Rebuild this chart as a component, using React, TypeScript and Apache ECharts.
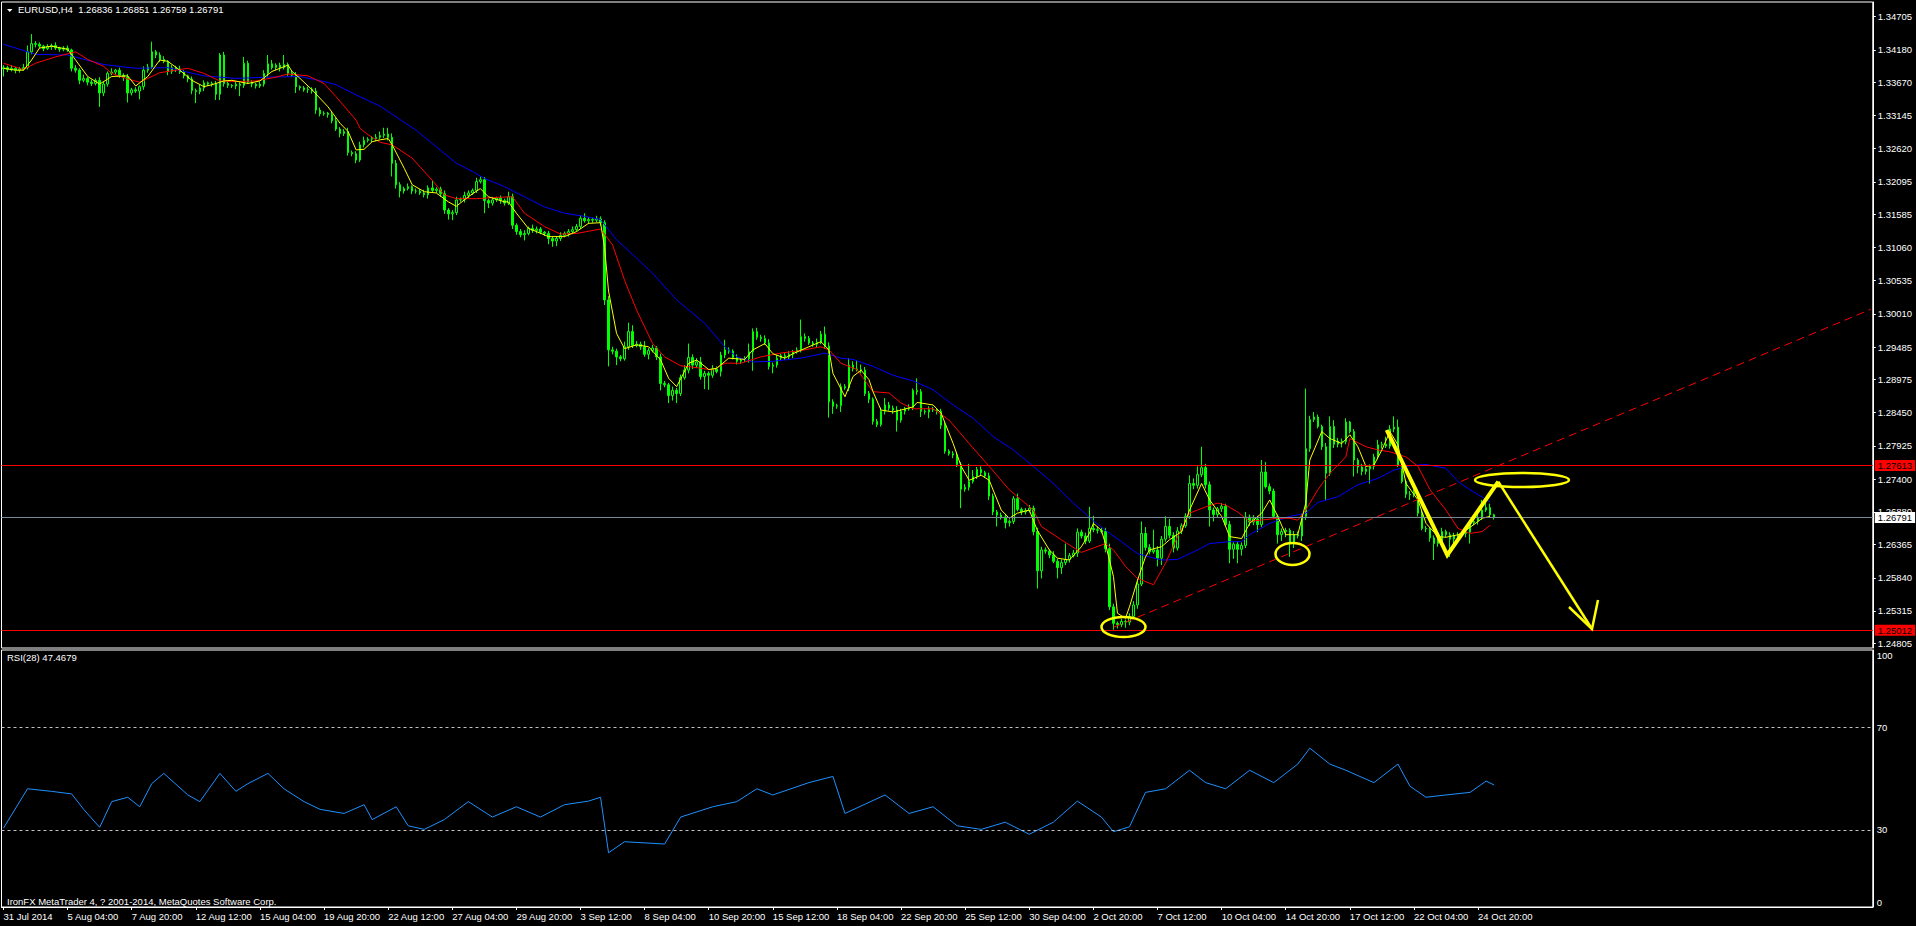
import React, { useEffect, useRef } from 'react';
import * as echarts from 'echarts';

// ---------------- DATA ----------------
const PIP = 10000; // prices below are in 1/10000 units
const firstOpen = 13388;
const closes = [
  13390,13387,13389,13386,13388,13390,13415,13428,13427,13424,13420,13423,13425,13421,13419,13421,
  13418,13389,13386,13370,13373,13367,13365,13370,13350,13364,13381,13383,13386,13378,13375,13350,
  13355,13353,13360,13386,13391,13415,13410,13403,13400,13384,13390,13388,13383,13377,13372,13354,
  13352,13358,13366,13364,13365,13348,13410,13365,13362,13361,13364,13362,13397,13367,13364,13361,
  13364,13381,13396,13390,13394,13390,13395,13381,13378,13360,13358,13355,13356,13353,13323,13317,
  13318,13316,13306,13293,13286,13289,13256,13254,13244,13268,13275,13277,13278,13280,13283,13285,
  13280,13239,13205,13195,13199,13202,13195,13195,13192,13189,13200,13196,13198,13191,13165,13159,
  13161,13181,13182,13188,13192,13196,13210,13213,13180,13176,13181,13184,13180,13176,13186,13141,
  13131,13126,13128,13136,13133,13135,13130,13128,13120,13116,13120,13125,13128,13131,13134,13139,
  13152,13148,13150,13149,13151,13145,13023,12944,12942,12933,12930,12949,12973,12951,12953,12949,
  12937,12943,12947,12933,12891,12889,12872,12880,12875,12900,12912,12932,12920,12925,12902,12907,
  12904,12914,12910,12936,12944,12942,12932,12926,12928,12930,12941,12973,12964,12962,12955,12918,
  12920,12931,12935,12933,12937,12941,12944,12965,12962,12955,12953,12956,12969,12950,12862,12855,
  12856,12886,12884,12920,12914,12913,12912,12875,12866,12831,12826,12847,12857,12852,12849,12833,
  12847,12851,12853,12880,12878,12847,12846,12850,12849,12847,12825,12784,12780,12778,12763,12724,
  12727,12736,12744,12755,12750,12745,12713,12688,12683,12680,12671,12673,12709,12692,12688,12690,
  12694,12657,12595,12628,12626,12620,12610,12600,12608,12613,12619,12623,12656,12650,12642,12662,
  12660,12659,12657,12630,12538,12512,12510,12515,12514,12523,12541,12574,12654,12632,12625,12628,
  12615,12645,12665,12651,12631,12658,12666,12681,12733,12730,12747,12758,12731,12691,12684,12693,
  12697,12668,12629,12637,12629,12635,12680,12672,12677,12668,12751,12728,12721,12681,12652,12657,
  12659,12639,12652,12650,12681,12788,12834,12838,12823,12791,12749,12823,12795,12800,12799,12830,
  12815,12770,12759,12752,12756,12760,12775,12794,12795,12792,12819,12822,12762,12736,12716,12715,
  12719,12686,12662,12661,12647,12638,12642,12657,12652,12645,12650,12652,12654,12656,12671,12673,
  12679,12691,12695,12683.6,12679.1,
];
const upperWicks = [
  4,3,5,2,3,6,10,15,4,3,2,4,3,5,2,3, 4,2,5,3,6,2,4,3,5,4,3,6,2,4,3,5,
  3,4,2,6,5,16,3,4,5,2,4,3,5,3,2,4, 3,5,4,2,3,4,3,5,3,2,4,3,10,4,3,2,
  4,5,14,6,3,4,15,3,4,5,2,3,4,3,5,4, 3,2,4,5,3,4,6,3,4,5,6,3,4,5,6,10,
  10,6,5,4,3,5,2,4,3,5,4,12,3,4,5,3, 4,5,3,6,4,3,6,5,4,3,5,2,4,3,8,5,
  3,4,5,3,6,4,3,2,4,3,4,5,3,4,5,4, 5,8,4,3,5,4,4,6,5,4,3,8,14,10,5,4,
  9,4,5,3,5,4,3,6,4,5,8,22,5,6,8,4, 3,6,4,5,16,4,3,5,3,4,13,5,6,4,5,6,
  4,5,3,4,5,3,4,27,5,4,3,6,5,12,6,4, 3,5,4,11,6,14,8,5,4,3,4,6,11,5,4,6,
  4,3,5,3,19,4,3,5,4,3,4,5,3,4,5,4, 5,28,10,4,5,3,5,4,3,4,5,3,4,8,3,4,
  5,4,6,5,4,3,6,4,5,25,4,5,6,4,5,34, 20,5,4,6,8,5,3,4,3,5,6,8,19,10,5,32,
  6,5,16,12,5,6,4,5,13,8,13,33,6,5,4,3, 5,4,6,3,4,5,8,4,6,5,19,16,5,4,3,5,
  4,3,6,5,4,95,6,8,4,3,6,16,10,5,4,6, 2,4,3,5,4,3,5,8,4,12,6,17,12,4,3,5,
  4,3,5,4,3,4,5,6,3,4,5,4,3,5,4,6, 8,16,10,6,1.5,
];
const lowerWicks = [
  12,4,3,5,4,3,3,4,5,3,4,2,5,3,4,3, 3,5,4,6,3,5,4,3,22,5,4,3,5,4,6,15,
  4,3,13,5,4,3,5,4,3,6,4,5,3,4,5,6, 18,4,5,3,4,9,9,5,4,3,5,17,4,3,5,4,
  3,4,5,3,4,6,3,4,3,10,4,3,5,4,6,4, 3,5,4,3,6,4,5,4,5,3,4,3,5,4,3,4,
  5,21,6,10,4,3,5,4,3,4,6,3,4,5,6,9, 10,4,3,5,4,3,4,3,20,8,4,3,5,4,3,6,
  5,4,9,3,4,5,3,4,9,9,8,4,3,5,4,3, 4,3,5,4,3,5,8,26,5,13,4,3,5,4,3,5,
  4,8,3,5,11,4,12,8,15,4,3,5,6,4,5,20, 23,4,3,8,5,4,3,5,4,3,6,30,4,5,3,5,
  11,4,3,5,4,6,3,4,5,3,4,5,3,4,25,12, 4,10,3,5,4,3,5,4,6,5,4,3,5,4,6,18,
  4,5,3,4,5,9,4,10,3,5,6,4,3,5,4,30, 4,5,3,4,5,3,6,5,18,4,9,6,4,3,5,4,
  3,6,28,12,4,5,3,17,10,4,5,3,6,4,5,3, 4,5,3,6,5,10,6,4,9,5,4,6,3,5,4,3,
  13,11,4,5,7,4,5,3,4,6,5,4,6,26,11,4, 5,3,22,15,22,10,4,6,5,12,4,3,5,4,14,10,
  9,22,8,4,8,6,5,4,3,5,42,4,6,5,9,4, 3,26,10,6,5,23,5,4,6,3,4,5,3,3,6,8,
  4,5,3,5,6,26,5,6,4,28,14,5,4,6,18,4, 5,4,3,5,3.2,
];

// moving averages, read as [bar index, price in 1/10000]
const maYellow = [
  [0,13389],[3,13386],[5,13386],[7,13402],[9,13421],[12,13424],[16,13419],[18,13402],[21,13376],[24,13364],
  [27,13376],[31,13377],[33,13361],[36,13376],[39,13402],[41,13400],[44,13386],[47,13370],[50,13360],[52,13363],
  [55,13369],[57,13370],[61,13365],[64,13369],[67,13384],[71,13394],[72,13384],[74,13373],[77,13355],[81,13328],
  [84,13302],[86,13289],[88,13260],[90,13261],[92,13273],[94,13276],[96,13278],[97,13268],[100,13231],[102,13205],
  [105,13194],[108,13192],[111,13178],[113,13171],[116,13186],[119,13199],[121,13186],[125,13178],[126,13178],[128,13160],
  [131,13136],[133,13131],[136,13123],[140,13123],[143,13131],[146,13144],[149,13145],[150,13106],[151,13037],[153,12970],
  [155,12946],[158,12952],[161,12949],[164,12928],[166,12899],[168,12886],[171,12923],[173,12928],[176,12913],[178,12915],
  [181,12931],[185,12929],[187,12944],[190,12954],[192,12938],[195,12931],[197,12938],[201,12949],[204,12957],[206,12944],
  [207,12907],[210,12870],[212,12902],[214,12912],[216,12897],[217,12878],[219,12849],[222,12846],[224,12849],[227,12854],
  [228,12861],[232,12857],[234,12844],[237,12796],[239,12760],[241,12738],[244,12746],[246,12738],[249,12691],[251,12678],
  [253,12686],[256,12691],[258,12659],[261,12628],[263,12615],[266,12612],[269,12633],[271,12654],[272,12670],[274,12659],
  [275,12638],[277,12586],[278,12528],[280,12520],[281,12538],[283,12580],[285,12617],[286,12628],[289,12633],[291,12644],
  [294,12657],[296,12691],[299,12733],[301,12707],[304,12681],[306,12649],[309,12646],[311,12670],[314,12686],[316,12707],
  [318,12681],[320,12652],[323,12652],[325,12702],[326,12770],[329,12815],[331,12804],[334,12796],[336,12810],[338,12791],
  [340,12760],[342,12762],[344,12786],[346,12815],[348,12794],[350,12733],[353,12707],[355,12670],[358,12649],[360,12648],
  [363,12652],[365,12659],[368,12673],[369,12678],[371,12681],
];
const maRed = [
  [0,13397],[5,13387],[8,13397],[13,13407],[18,13415],[21,13403],[25,13392],[27,13381],[31,13372],[34,13367],
  [36,13373],[39,13382],[46,13389],[50,13381],[54,13369],[58,13368],[63,13369],[68,13375],[71,13380],[76,13377],
  [80,13365],[83,13344],[88,13307],[89,13294],[91,13284],[94,13272],[97,13268],[102,13247],[107,13212],[110,13189],
  [113,13183],[118,13183],[123,13185],[127,13186],[130,13160],[135,13139],[139,13127],[143,13128],[149,13135],[152,13110],
  [155,13054],[158,13007],[162,12954],[165,12933],[169,12919],[173,12916],[177,12912],[180,12923],[184,12923],[189,12933],
  [194,12939],[199,12943],[204,12949],[206,12944],[209,12923],[213,12913],[217,12878],[221,12876],[224,12860],[227,12851],
  [232,12851],[236,12833],[241,12796],[246,12760],[251,12723],[254,12707],[257,12691],[259,12665],[264,12644],[269,12624],
  [272,12631],[275,12638],[277,12628],[280,12602],[283,12583],[287,12573],[290,12607],[293,12649],[296,12686],[300,12696],
  [303,12702],[305,12699],[308,12688],[311,12673],[315,12676],[318,12678],[321,12678],[323,12675],[325,12691],[328,12723],
  [331,12749],[335,12775],[336,12804],[340,12791],[343,12786],[346,12783],[350,12775],[353,12760],[356,12723],[360,12691],
  [363,12662],[366,12654],[369,12657],[371,12667],
];
const maBlue = [
  [0,13427],[8,13411],[16,13410],[25,13395],[33,13389],[41,13390],[50,13377],[58,13373],[66,13375],[74,13376],
  [80,13368],[83,13363],[88,13347],[94,13329],[103,13291],[113,13239],[117,13226],[120,13215],[125,13202],[130,13186],
  [135,13170],[140,13160],[145,13155],[149,13150],[153,13118],[158,13089],[162,13065],[168,13023],[175,12986],[180,12949],
  [183,12933],[187,12925],[192,12926],[199,12931],[205,12939],[209,12931],[212,12929],[217,12918],[222,12904],[227,12895],
  [232,12881],[237,12857],[242,12836],[247,12807],[252,12786],[257,12760],[262,12733],[267,12702],[272,12674],[275,12659],
  [279,12641],[283,12622],[289,12612],[293,12613],[298,12628],[301,12638],[306,12641],[309,12641],[311,12652],[316,12670],
  [321,12681],[325,12686],[328,12703],[333,12712],[338,12731],[343,12741],[347,12754],[351,12761],[355,12763],[360,12757],
  [363,12736],[366,12723],[371,12704],
];
// RSI(28), read as [bar index, value]
const rsi28 = [
  [0,30.7],[6,46],[12,45],[17,44],[20,38],[24,31],[27,41],[31,42.7],[34,39],[37,48],[40,52],[46,43.6],[49,41],
  [54,52],[58,45],[61,48],[66,52],[70,46],[75,41],[79,38],[85,36.4],[90,39.8],[92,34],[98,39],[101,31.6],[105,30.2],
  [110,34],[116,41],[122,35],[128,39],[134,35],[140,39.8],[146,41.2],[149,42.7],[151,21.1],[155,25.4],[165,24.5],
  [169,35],[177,39],[183,41],[188,46],[192,43.6],[201,48.4],[207,50.8],[210,36.4],[220,43.6],[226,36.4],[232,39],
  [238,31.6],[244,30.2],[250,33],[256,28.3],[262,33],[268,41.2],[274,35],[277,29.3],[281,31.2],[285,44.6],[290,46],
  [296,53.2],[300,48.4],[305,46],[311,53.2],[317,48.4],[323,55.6],[326,61.8],[331,55.6],[335,53.2],[342,48.4],
  [348,55.6],[351,47],[355,42.7],[360,43.6],[366,44.6],[370,49],[372,47.4679],
];

const priceTicks = [1.34705,1.3418,1.3367,1.33145,1.3262,1.32095,1.31585,1.3106,1.30535,1.3001,1.29485,1.28975,1.2845,1.27925,1.274,1.2688,1.26365,1.2584,1.25315,1.24805];
const rsiTicks = [0, 30, 70, 100];
const rsiLevels = [30, 70];
const timeLabels = ['31 Jul 2014','5 Aug 04:00','7 Aug 20:00','12 Aug 12:00','15 Aug 04:00','19 Aug 20:00','22 Aug 12:00','27 Aug 04:00','29 Aug 20:00','3 Sep 12:00','8 Sep 04:00','10 Sep 20:00','15 Sep 12:00','18 Sep 04:00','22 Sep 20:00','25 Sep 12:00','30 Sep 04:00','2 Oct 20:00','7 Oct 12:00','10 Oct 04:00','14 Oct 20:00','17 Oct 12:00','22 Oct 04:00','24 Oct 20:00'];
const BARS_PER_LABEL = 16;
const lastQuote = ['1.26836', '1.26851', '1.26759', '1.26791'];
const symbolName = 'EURUSD,H4';
const rsiName = 'RSI(28)';
const rsiLast = '47.4679';
const resistance = 1.27613;
const support = 1.25012;
const bid = 1.26791;
const trendline = [[277, 1.25056], [466, 1.30082]];
const SLOTS = 467; // bar slots incl. the empty space on the right
const priceMin = 1.247302;
const priceMax = 1.349373;

// ---------------- LAYOUT ----------------
const FONT = 'Liberation Sans, Arial, sans-serif';
const BAR = 4.007;
const LEFT = 1.5;

export default function App() {
  const ref = useRef<HTMLDivElement>(null);
  useEffect(() => {
    const chart = echarts.init(ref.current as HTMLDivElement, null, { renderer: 'svg' });
    const candles = closes.map((c, i) => {
      const o = i === 0 ? firstOpen : closes[i - 1];
      const h = Math.max(o, c) + upperWicks[i];
      const l = Math.min(o, c) - lowerWicks[i];
      return [o / PIP, c / PIP, l / PIP, h / PIP];
    });
    const toPrice = (arr: number[][]) => arr.map(([i, v]) => [i, v / PIP]);
    const cats = Array.from({ length: SLOTS }, (_, i) => String(i));
    const labelAt = (idx: number) => idx % BARS_PER_LABEL === 0 && idx / BARS_PER_LABEL < timeLabels.length;
    const width = SLOTS * BAR;
    const txt = { color: '#ffffff', fontSize: 9.5, fontFamily: FONT, fontWeight: 'normal' as const };
    const tag = (text: string, bg: string) => ({
      show: true, position: 'end', formatter: text, color: '#000000', backgroundColor: bg,
      padding: [1, 3, 0, 3], fontSize: 9.5, fontFamily: FONT, distance: 2,
    });

    const option: any = {
      animation: false,
      backgroundColor: '#000000',
      title: [
        { text: symbolName + '  ' + lastQuote.join(' '), left: 18, top: 4.5, padding: 0, textStyle: txt },
        { text: rsiName + ' ' + rsiLast, left: 7, top: 652, padding: 0, textStyle: txt },
        { text: 'IronFX MetaTrader 4, ? 2001-2014, MetaQuotes Software Corp.', left: 7, top: 896, padding: 0, textStyle: txt },
      ],
      grid: [
        { left: LEFT, top: 2, width, height: 646, show: true, borderColor: '#ffffff', borderWidth: 1, backgroundColor: 'transparent' },
        { left: LEFT, top: 650, width, height: 257, show: true, borderColor: '#ffffff', borderWidth: 1, backgroundColor: 'transparent' },
      ],
      xAxis: [
        { type: 'category', gridIndex: 0, data: cats, boundaryGap: true, show: false },
        {
          type: 'category', gridIndex: 1, data: cats, boundaryGap: true,
          axisLine: { show: true, lineStyle: { color: '#ffffff' } },
          axisTick: { show: true, interval: (i: number) => labelAt(i), alignWithLabel: true, length: 3, lineStyle: { color: '#ffffff' } },
          axisLabel: {
            interval: (i: number) => labelAt(i), align: 'left', margin: 4, color: '#ffffff', fontSize: 9.5, fontFamily: FONT,
            formatter: (v: string) => timeLabels[Number(v) / BARS_PER_LABEL] ?? '',
          },
          splitLine: { show: false },
        },
      ],
      yAxis: [
        {
          type: 'value', gridIndex: 0, position: 'right', min: priceMin, max: priceMax,
          splitLine: { show: false },
          axisLine: { show: true, lineStyle: { color: '#ffffff' } },
          axisTick: { show: true, length: 3, lineStyle: { color: '#ffffff' }, customValues: priceTicks },
          axisLabel: { color: '#ffffff', fontSize: 9.5, fontFamily: FONT, margin: 5, customValues: priceTicks, formatter: (v: number) => v.toFixed(5) },
        },
        {
          type: 'value', gridIndex: 1, position: 'right', min: 0, max: 100,
          splitLine: { show: false },
          axisLine: { show: true, lineStyle: { color: '#ffffff' } },
          axisTick: { show: false },
          axisLabel: {
            color: '#ffffff', fontSize: 9.5, fontFamily: FONT, margin: 4, customValues: rsiTicks,
            verticalAlignMaxLabel: 'top', verticalAlignMinLabel: 'bottom',
          },
        },
      ],
      series: [
        {
          name: 'EURUSD', type: 'candlestick', xAxisIndex: 0, yAxisIndex: 0, data: candles, barWidth: 2,
          itemStyle: { color: '#000000', color0: '#00ff00', borderColor: '#00ff00', borderColor0: '#00ff00', borderWidth: 1 },
          markLine: {
            silent: true, symbol: ['none', 'none'], animation: false, precision: 6,
            data: [
              { yAxis: resistance, lineStyle: { color: '#ff0000', width: 1, type: 'solid' }, label: tag(resistance.toFixed(5), '#ff0000') },
              { yAxis: support, lineStyle: { color: '#ff0000', width: 1, type: 'solid' }, label: tag(support.toFixed(5), '#ff0000') },
              { yAxis: bid, lineStyle: { color: '#778899', width: 1, type: 'solid' }, label: tag(bid.toFixed(5), '#ffffff') },
            ],
          },
          z: 2,
        },
        { name: 'MA slow', type: 'line', xAxisIndex: 0, yAxisIndex: 0, data: toPrice(maBlue), showSymbol: false, symbol: 'none', lineStyle: { color: '#0000ff', width: 1 }, z: 3 },
        { name: 'MA mid', type: 'line', xAxisIndex: 0, yAxisIndex: 0, data: toPrice(maRed), showSymbol: false, symbol: 'none', lineStyle: { color: '#ff0000', width: 1 }, z: 3 },
        { name: 'MA fast', type: 'line', xAxisIndex: 0, yAxisIndex: 0, data: toPrice(maYellow), showSymbol: false, symbol: 'none', lineStyle: { color: '#ffff00', width: 1 }, z: 4 },
        { name: 'Trendline', type: 'line', xAxisIndex: 0, yAxisIndex: 0, data: trendline, showSymbol: false, symbol: 'none', lineStyle: { color: '#ff0000', width: 1, type: [8, 5] }, z: 4 },
        {
          name: 'RSI', type: 'line', xAxisIndex: 1, yAxisIndex: 1, data: rsi28, showSymbol: false, symbol: 'none',
          lineStyle: { color: '#1e90ff', width: 1 },
          markLine: {
            silent: true, symbol: ['none', 'none'], label: { show: false }, precision: 4,
            lineStyle: { color: '#c0c0c0', width: 1, type: [3, 3] },
            data: rsiLevels.map((v) => ({ yAxis: v })),
          },
        },
      ],
      graphic: [
        { type: 'polygon', shape: { points: [[7, 9], [12.5, 9], [9.75, 12]] }, style: { fill: '#ffffff' } },
        { type: 'ellipse', shape: { cx: 1123.5, cy: 627, rx: 22, ry: 10 }, style: { fill: 'none', stroke: '#ffff00', lineWidth: 2.5 }, z: 10 },
        { type: 'ellipse', shape: { cx: 1292.5, cy: 554, rx: 17, ry: 11 }, style: { fill: 'none', stroke: '#ffff00', lineWidth: 2.5 }, z: 10 },
        { type: 'ellipse', shape: { cx: 1522, cy: 480, rx: 47, ry: 7 }, style: { fill: 'none', stroke: '#ffff00', lineWidth: 2.5 }, z: 10 },
        { type: 'polyline', shape: { points: [[1386.7, 430], [1447.3, 555], [1498.3, 481.7]] }, style: { stroke: '#ffff00', lineWidth: 4, fill: 'none' }, z: 10 },
        { type: 'polyline', shape: { points: [[1498.3, 481.7], [1592, 629]] }, style: { stroke: '#ffff00', lineWidth: 2.5, fill: 'none' }, z: 10 },
        { type: 'polyline', shape: { points: [[1569, 607], [1592, 629], [1598, 600]] }, style: { stroke: '#ffff00', lineWidth: 2.5, fill: 'none' }, z: 10 },
      ],
    };
    chart.setOption(option);
    return () => chart.dispose();
  }, []);
  return <div ref={ref} style={{ position: 'fixed', left: 0, top: 0, width: 1916, height: 926, background: '#000000' }} />;
}
